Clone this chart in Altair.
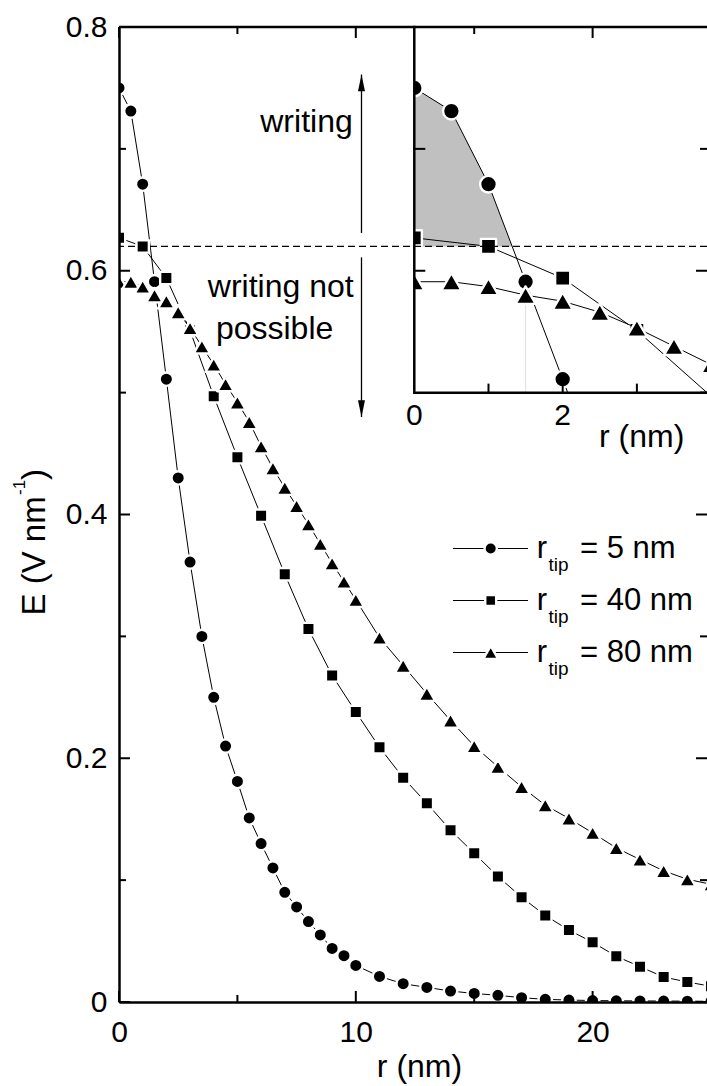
import altair as alt
import pandas as pd

# ---------------- data: surface field E(r) for three tip radii ----------------
r_fine = [0, 0.5, 1, 1.5, 2, 2.5, 3, 3.5, 4, 4.5, 5, 5.5, 6, 6.5, 7, 7.5, 8, 8.5, 9, 9.5, 10,
          11, 12, 13, 14, 15, 16, 17, 18, 19, 20, 21, 22, 23, 24, 25]
r_unit = list(range(26))

e_tip5 = [0.750, 0.731, 0.671, 0.591, 0.511, 0.430, 0.361, 0.300, 0.250, 0.210, 0.181,
          0.151, 0.130, 0.110, 0.090, 0.078, 0.066, 0.055, 0.044, 0.038, 0.030,
          0.021, 0.015, 0.012, 0.009, 0.007, 0.0055, 0.0035, 0.0022, 0.0016, 0.0012,
          0.0010, 0.0009, 0.0008, 0.0007, 0.0006]
e_tip40 = [0.627, 0.620, 0.594, 0.551, 0.497, 0.447, 0.399, 0.351, 0.306, 0.268, 0.238,
           0.209, 0.184, 0.163, 0.141, 0.122, 0.103, 0.086, 0.071, 0.059, 0.049,
           0.0375, 0.029, 0.0205, 0.0164, 0.0129]
e_tip80 = [0.591, 0.591, 0.587, 0.580, 0.575, 0.566, 0.553, 0.538, 0.523, 0.507, 0.492,
           0.476, 0.456, 0.438, 0.422, 0.407, 0.392, 0.376, 0.360, 0.345, 0.330,
           0.299, 0.276, 0.253, 0.231, 0.210, 0.193, 0.1765, 0.1615, 0.1506, 0.1388,
           0.1264, 0.1169, 0.1076, 0.1007, 0.0966]

tip_labels = ["5 nm", "40 nm", "80 nm"]
E_WRITE = 0.62          # field needed for writing

x_major = [0, 10, 20]
x_minor = [5, 15]
y_major = [0, 0.2, 0.4, 0.6, 0.8]
y_minor = [0.1, 0.3, 0.5, 0.7]
inset_x_labels = [0, 2]
inset_x_ticks = [1, 2, 3]
inset_y_ticks = [0.6, 0.7]

# ---------------- geometry / style ----------------
W, H = 588, 975
PAD = {"left": 119, "top": 27, "right": 0, "bottom": 84}
X_MAX, Y_MAX = 24.83, 0.8
XI_MAX, YI_MIN = 3.945, 0.5
INSET_X0 = 295.3
INSET_Y0 = H * (1 - YI_MIN / Y_MAX)
PX_X = W / X_MAX
PX_Y = H / Y_MAX
PX_XI = (W - INSET_X0) / XI_MAX

FONT = "Liberation Sans"
INK = "black"
HALO = 2.4
FRAME_W = 2.5

ARROW_UP = "M0,0L0.42,2L-0.42,2Z"
ARROW_DOWN = "M0,0L0.42,-2L-0.42,-2Z"

xs_main = alt.Scale(domain=[0, X_MAX], nice=False, zero=False)
ys_main = alt.Scale(domain=[0, Y_MAX], nice=False, zero=False)
xs_in = alt.Scale(domain=[0, XI_MAX], range=[INSET_X0, W], nice=False, zero=False)
ys_in = alt.Scale(domain=[YI_MIN, Y_MAX], range=[INSET_Y0, 0], nice=False, zero=False)
xs_px = alt.Scale(domain=[0, W], range=[0, W], nice=False, zero=False)
ys_px = alt.Scale(domain=[0, H], range=[0, H], nice=False, zero=False)

# shape, r, E, marker size in main plot / inset / legend (visible px)
SERIES = [
    ("circle", r_fine, e_tip5, 11.0, 14.3, 10.0),
    ("square", r_unit, e_tip40, 10.0, 12.7, 8.5),
    ("triangle-up", r_fine, e_tip80, 12.5, 16.0, 11.0),
]


def halo_size(shape, d):
    side = d + (HALO * 3 ** 0.5 if shape == "triangle-up" else HALO)
    return side ** 2


def marker(shape, d):
    return dict(shape=shape, size=halo_size(shape, d), filled=True, fill=INK,
                stroke="white", strokeWidth=HALO, strokeJoin="round",
                opacity=1, fillOpacity=1, strokeOpacity=1, clip=True)


ax_x = alt.Axis(values=x_major, format="d", ticks=False, tickSize=0, labelPadding=15,
                labelFont=FONT, labelFontSize=30, labelColor=INK, labelFlush=False,
                labelOverlap=False, domainColor=INK, domainWidth=FRAME_W, grid=False,
                zindex=1, title="r (nm)", titleFont=FONT, titleFontSize=32,
                titleFontWeight="normal", titleColor=INK, titleX=300, titleY=74,
                titleBaseline="alphabetic", titleAlign="center")
ax_y = alt.Axis(values=y_major, format="~g", ticks=False, tickSize=0, labelPadding=12,
                labelFont=FONT, labelFontSize=30, labelColor=INK, labelFlush=False,
                labelOverlap=False, domainColor=INK, domainWidth=FRAME_W, grid=False,
                zindex=1, title=None)

# ---------------- main curves ----------------
main_layers = []
for shape, r, e, d_main, _, _ in SERIES:
    base = alt.Chart(pd.DataFrame({"r": r, "e": e})).encode(
        x=alt.X("r:Q", scale=xs_main, axis=ax_x),
        y=alt.Y("e:Q", scale=ys_main, axis=ax_y),
    )
    main_layers.append(base.mark_line(color=INK, strokeWidth=1, clip=True))
    main_layers.append(base.mark_point(**marker(shape, d_main)))
main = alt.layer(*main_layers)

# ---------------- inset: zoom on r < 4 nm ----------------
def xi(f):
    return alt.X(f, scale=xs_in, axis=None)


def yi(f):
    return alt.Y(f, scale=ys_in, axis=None)


def inset_track(r, e):
    """Curve points inside the inset, cut where the curve leaves through the bottom."""
    pts = []
    for i, (x, y) in enumerate(zip(r, e)):
        if x > XI_MAX + 0.6:
            break
        if y >= YI_MIN:
            pts.append({"r": x, "e": y})
        else:
            x0, y0 = r[i - 1], e[i - 1]
            pts.append({"r": x0 + (y0 - YI_MIN) / (y0 - y) * (x - x0), "e": YI_MIN})
            break
    return pts


# region of the 5 nm curve above the writing threshold
shade = []
for i, (x, y) in enumerate(zip(r_fine, e_tip5)):
    if y >= E_WRITE:
        shade.append({"r": x, "e": y, "base": E_WRITE})
    else:
        x0, y0 = r_fine[i - 1], e_tip5[i - 1]
        shade.append({"r": x0 + (y0 - E_WRITE) / (y0 - y) * (x - x0), "e": E_WRITE, "base": E_WRITE})
        break

inset_layers = [
    alt.Chart(pd.DataFrame(shade)).mark_area(color="#c0c0c0", opacity=1).encode(
        x=xi("r:Q"), y=yi("e:Q"), y2="base:Q"),
    alt.Chart(pd.DataFrame({"r": [1.5], "lo": [YI_MIN], "hi": [e_tip80[r_fine.index(1.5)]]}))
    .mark_rule(color="#e0e0e0", strokeWidth=1).encode(x=xi("r:Q"), y=yi("lo:Q"), y2="hi:Q"),
]
for shape, r, e, _, d_in, _ in SERIES:
    inset_layers.append(
        alt.Chart(pd.DataFrame(inset_track(r, e))).mark_line(color=INK, strokeWidth=1, clip=True)
        .encode(x=xi("r:Q"), y=yi("e:Q")))
    pts = pd.DataFrame({"r": r, "e": e})
    pts = pts[(pts.e >= YI_MIN) & (pts.r <= XI_MAX + 0.6)]
    inset_layers.append(alt.Chart(pts).mark_point(**marker(shape, d_in))
                        .encode(x=xi("r:Q"), y=yi("e:Q")))

# symbols are cut at the inset's left axis
inset_layers.append(
    alt.Chart(pd.DataFrame({"x": [-12 / PX_XI], "x2": [0], "y": [YI_MIN], "y2": [Y_MAX]}))
    .mark_rect(fill="white", opacity=1).encode(x=xi("x:Q"), x2="x2:Q", y=yi("y:Q"), y2="y2:Q"))

inset_frame = [
    {"x": 0, "x2": 0, "y": YI_MIN, "y2": Y_MAX, "w": FRAME_W},
    {"x": 0, "x2": XI_MAX, "y": YI_MIN, "y2": YI_MIN, "w": FRAME_W},
]
for v in inset_y_ticks:
    inset_frame.append({"x": 0, "x2": 10 / PX_XI, "y": v, "y2": v, "w": 2})
for v in inset_x_ticks:
    L = 11 if v in inset_x_labels else 8
    inset_frame.append({"x": v, "x2": v, "y": YI_MIN, "y2": YI_MIN + L / PX_Y, "w": 2})
inset_layers.append(
    alt.Chart(pd.DataFrame(inset_frame)).mark_rule(color=INK, strokeCap="square").encode(
        x=xi("x:Q"), x2="x2:Q", y=yi("y:Q"), y2="y2:Q",
        strokeWidth=alt.StrokeWidth("w:Q", scale=None)))
inset_layers.append(
    alt.Chart(pd.DataFrame({"v": inset_x_labels, "t": [str(v) for v in inset_x_labels]}))
    .mark_text(font=FONT, fontSize=30, color=INK, align="center", baseline="alphabetic")
    .encode(x=xi("v:Q"), y=alt.value(INSET_Y0 + 32.5), text="t:N"))
inset_layers.append(
    alt.Chart(pd.DataFrame({"v": [3.065], "t": ["r (nm)"]}))
    .mark_text(font=FONT, fontSize=32, color=INK, align="center", baseline="alphabetic")
    .encode(x=xi("v:Q"), y=alt.value(INSET_Y0 + 54.5), text="t:N"))
inset = alt.layer(*inset_layers)

# ---------------- frame ticks, threshold and annotations ----------------
def xm(f):
    return alt.X(f, scale=xs_main, axis=None)


def ym(f):
    return alt.Y(f, scale=ys_main, axis=None)


ticks = []
for v in x_major + x_minor:
    L = 11 if v in x_major else 7
    ticks.append({"x": v, "x2": v, "y": 0, "y2": L / PX_Y})
    ticks.append({"x": v, "x2": v, "y": Y_MAX - L / PX_Y, "y2": Y_MAX})
for v in y_major + y_minor:
    L = 11 if v in y_major else 7
    ticks.append({"x": 0, "x2": L / PX_X, "y": v, "y2": v})
    ticks.append({"x": X_MAX - L / PX_X, "x2": X_MAX, "y": v, "y2": v})

ARROW_X = 10.24
arrows = pd.DataFrame({"x": [ARROW_X, ARROW_X], "y": [0.631, 0.611], "y2": [0.761, 0.480]})

frame_layers = [
    alt.Chart(pd.DataFrame(ticks)).mark_rule(color=INK, strokeWidth=2).encode(
        x=xm("x:Q"), x2="x2:Q", y=ym("y:Q"), y2="y2:Q"),
    alt.Chart(pd.DataFrame({"y": [Y_MAX]})).mark_rule(color=INK, strokeWidth=FRAME_W)
    .encode(y=ym("y:Q")),
    alt.Chart(pd.DataFrame({"y": [E_WRITE]})).mark_rule(color=INK, strokeWidth=1.3, strokeDash=[7, 4])
    .encode(y=ym("y:Q")),
    alt.Chart(arrows).mark_rule(color=INK, strokeWidth=1.3).encode(x=xm("x:Q"), y=ym("y:Q"), y2="y2:Q"),
    alt.Chart(arrows.iloc[[0]]).mark_point(shape=ARROW_UP, size=279, filled=True, fill=INK,
                                           strokeWidth=0, opacity=1)
    .encode(x=xm("x:Q"), y=ym("y2:Q")),
    alt.Chart(arrows.iloc[[1]]).mark_point(shape=ARROW_DOWN, size=279, filled=True, fill=INK,
                                           strokeWidth=0, opacity=1)
    .encode(x=xm("x:Q"), y=ym("y2:Q")),
    alt.Chart(pd.DataFrame({"x": [9.87], "y": [0.714], "t": ["writing"]}))
    .mark_text(font=FONT, fontSize=32, color=INK, align="right", baseline="alphabetic")
    .encode(x=xm("x:Q"), y=ym("y:Q"), text="t:N"),
    alt.Chart(pd.DataFrame({"x": [6.83, 6.57], "y": [0.5785, 0.5443], "t": ["writing not", "possible"]}))
    .mark_text(font=FONT, fontSize=32, color=INK, align="center", baseline="alphabetic")
    .encode(x=xm("x:Q"), y=ym("y:Q"), text="t:N"),
]
frame = alt.layer(*frame_layers)

# ---------------- legend and y title (pixel positions) ----------------
def xp(f):
    return alt.X(f, scale=xs_px, axis=None)


def yp(f):
    return alt.Y(f, scale=ys_px, axis=None)


LEG_Y0, LEG_DY = 521.5, 52
legend_rows = []
for i, ((shape, _, _, _, _, d_leg), lab) in enumerate(zip(SERIES, tip_labels)):
    y = LEG_Y0 + i * LEG_DY
    legend_rows.append({"x1": 334, "x2": 409, "xm": 371.7, "xr": 417.7, "xt": 429.5, "xe": 461,
                        "y": y, "yb": y + 9, "ys": y + 22, "shape": shape,
                        "size": halo_size(shape, d_leg), "eq": "= " + lab})
leg = pd.DataFrame(legend_rows)

title_parts = pd.DataFrame({
    "t": ["E (V nm", "-1", ")"],
    "x": [-74, -94, -74],
    "y": [588.5, 468, 453],
    "fs": [33, 17, 33],
})

overlay = alt.layer(
    alt.Chart(leg).mark_rule(color=INK, strokeWidth=1).encode(x=xp("x1:Q"), x2="x2:Q", y=yp("y:Q")),
    alt.Chart(leg).mark_point(filled=True, fill=INK, stroke="white", strokeWidth=HALO,
                              strokeJoin="round", opacity=1).encode(
        x=xp("xm:Q"), y=yp("y:Q"),
        shape=alt.Shape("shape:N", scale=None), size=alt.Size("size:Q", scale=None)),
    alt.Chart(leg).mark_text(text="r", font=FONT, fontSize=31, color=INK, align="left",
                             baseline="alphabetic").encode(x=xp("xr:Q"), y=yp("yb:Q")),
    alt.Chart(leg).mark_text(text="tip", font=FONT, fontSize=19, color=INK, align="left",
                             baseline="alphabetic").encode(x=xp("xt:Q"), y=yp("ys:Q")),
    alt.Chart(leg).mark_text(font=FONT, fontSize=31, color=INK, align="left",
                             baseline="alphabetic").encode(x=xp("xe:Q"), y=yp("yb:Q"), text="eq:N"),
    alt.Chart(title_parts).mark_text(font=FONT, color=INK, angle=270, align="left",
                                     baseline="alphabetic").encode(
        x=xp("x:Q"), y=yp("y:Q"), text="t:N", size=alt.Size("fs:Q", scale=None)),
)

chart = (
    alt.layer(main, inset, frame, overlay)
    .resolve_scale(x="independent", y="independent")
    .properties(width=W, height=H, padding=PAD, autosize=alt.AutoSizeParams(type="none"),
                background="white")
    .configure_view(stroke=None)
)

chart.save("out.html", embed_options={"renderer": "svg", "actions": False})
